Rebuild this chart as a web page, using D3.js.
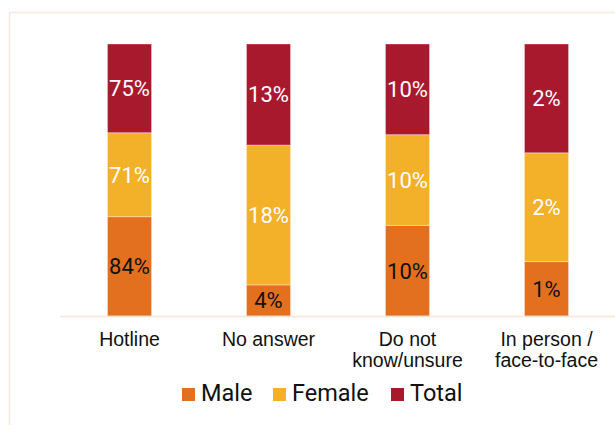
<!DOCTYPE html>
<html>
<head>
<meta charset="utf-8">
<script src="https://cdn.jsdelivr.net/npm/d3@7"></script>
<style>
  html, body { margin: 0; padding: 0; background: #fff; }
  svg { display: block; font-family: Roboto, "Open Sans", sans-serif; }
</style>
</head>
<body>
<svg id="chart" width="615" height="425"></svg>
<script>
// Channels used for reporting, by gender
const categories = ["Hotline", "No answer", "Do not know/unsure", "In person / face-to-face"];
const categoryLines = [["Hotline"], ["No answer"], ["Do not", "know/unsure"], ["In person /", "face-to-face"]];
const male = [84, 4, 10, 1];
const female = [71, 18, 10, 2];
const total = [75, 13, 10, 2];

const seriesNames = ["Male", "Female", "Total"];
const seriesColors = ["#e3701f", "#f2b128", "#a8192e"];
const labelColors = ["#111", "#fff", "#fff"];

const rows = categories.map((c, i) => ({ category: c, Male: male[i], Female: female[i], Total: total[i] }));

const svg = d3.select("#chart");

// light frame around the chart area
svg.append("rect")
  .attr("x", 9.5).attr("y", 12.5)
  .attr("width", 640).attr("height", 440)
  .attr("fill", "none")
  .attr("stroke", "#fce9de")
  .attr("stroke-width", 1.5);

const x = d3.scaleBand().domain(categories).range([60, 616]).paddingInner(0.683).paddingOuter(0.3415);
const y = d3.scaleLinear().domain([0, 1]).range([316, 44]);

const stack = d3.stack().keys(seriesNames).offset(d3.stackOffsetExpand);
const layers = stack(rows);

const g = svg.append("g");
layers.forEach((layer, li) => {
  const lg = g.append("g");
  lg.selectAll("rect").data(layer).join("rect")
    .attr("x", d => x(d.data.category))
    .attr("width", x.bandwidth())
    .attr("y", d => y(d[1]))
    .attr("height", d => y(d[0]) - y(d[1]))
    .attr("fill", seriesColors[li])
    .attr("stroke", "rgba(255,255,255,0.35)")
    .attr("stroke-width", 1);
  lg.selectAll("text").data(layer).join("text")
    .attr("x", d => x(d.data.category) + x.bandwidth() / 2)
    .attr("y", d => (y(d[0]) + y(d[1])) / 2)
    .attr("dy", "0.36em")
    .attr("text-anchor", "middle")
    .attr("font-size", 22)
    .attr("fill", labelColors[li])
    .text(d => d.data[layer.key] + "%");
});

// baseline
svg.append("line")
  .attr("x1", 60).attr("x2", 615)
  .attr("y1", y(0) + 0.5).attr("y2", y(0) + 0.5)
  .attr("stroke", "#fbe3d5")
  .attr("stroke-width", 1.5);

// category labels
const axis = d3.axisBottom(x).tickSize(0).tickFormat("");
const ax = svg.append("g").attr("transform", `translate(0,${y(0)})`).call(axis);
ax.select(".domain").remove();
ax.selectAll(".tick").each(function(d, i) {
  const t = d3.select(this).append("text")
    .attr("text-anchor", "middle")
    .attr("font-size", 19.5)
    .attr("fill", "#111");
  categoryLines[i].forEach((line, k) => {
    t.append("tspan").attr("x", 0).attr("y", 30 + k * 21).text(line);
  });
});

// legend
const legendItems = [
  { name: "Male", sx: 182 },
  { name: "Female", sx: 273 },
  { name: "Total", sx: 391 }
];
const legend = svg.append("g");
legendItems.forEach((it, i) => {
  legend.append("rect")
    .attr("x", it.sx).attr("y", 388)
    .attr("width", 13).attr("height", 13)
    .attr("fill", seriesColors[i]);
  legend.append("text")
    .attr("x", it.sx + 19).attr("y", 401)
    .attr("font-size", 23.5)
    .attr("fill", "#111")
    .text(seriesNames[i]);
});
</script>
</body>
</html>
